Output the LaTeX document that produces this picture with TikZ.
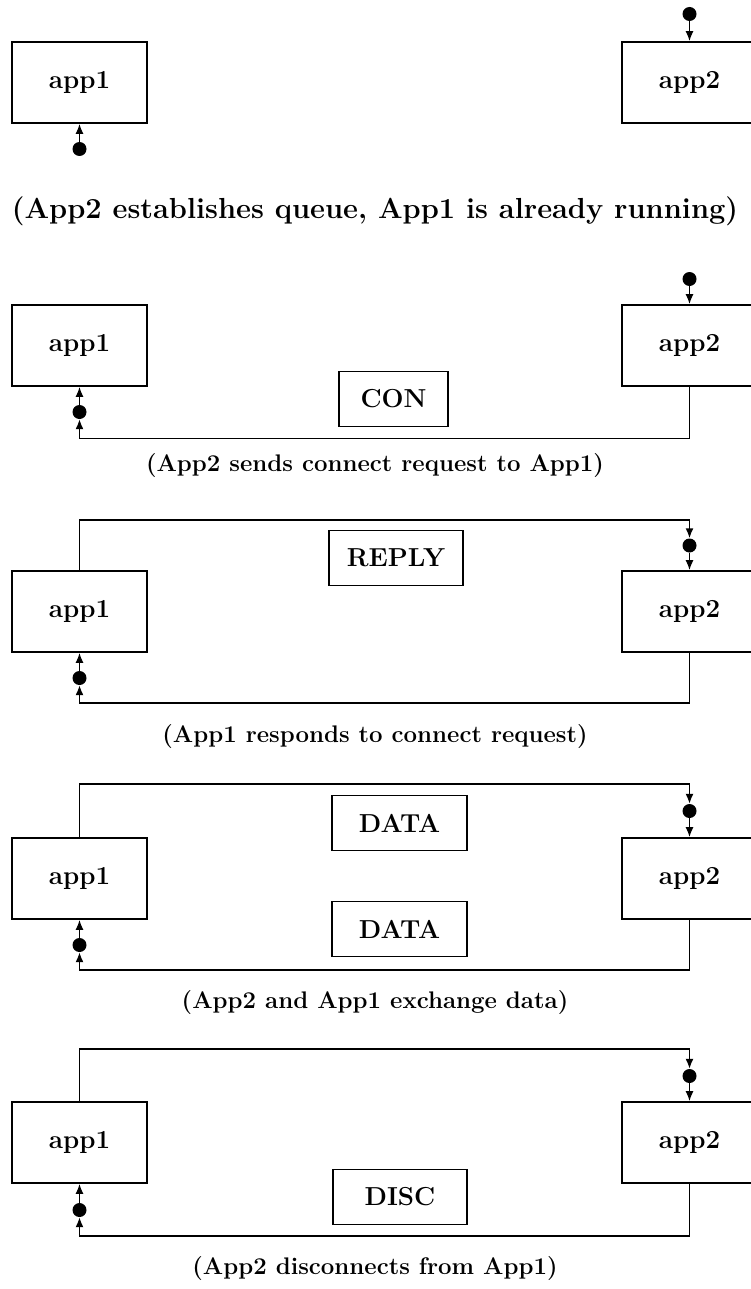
\documentclass[tikz,border=0pt]{standalone}
\usetikzlibrary{arrows.meta}
\tikzset{
  appbox/.style={draw, line width=1.6pt, minimum width=135pt, minimum height=81pt, inner sep=0pt, font=\fontsize{26}{30}\selectfont\bfseries},
  msgbox/.style={draw, line width=1.6pt, minimum width=134pt, minimum height=55pt, inner sep=0pt, font=\fontsize{26}{30}\selectfont\bfseries},
  dotnode/.style={circle, fill=black, inner sep=0pt, minimum size=14pt},
  conn/.style={line width=1.6pt},
  arr/.style={conn, -{Latex[length=10pt,width=8pt]}},
  captext/.style={inner sep=0pt, font=\fontsize{24}{28}\selectfont\bfseries},
  captextbig/.style={inner sep=0pt, font=\fontsize{29}{34}\selectfont\bfseries}
}
\begin{document}
\begin{tikzpicture}[x=1pt,y=-1pt]
\useasboundingbox (0,0) rectangle (750,1289);
% ---------- Section 1
\node[appbox] (a1a) at (79.5,82.5) {app1};
\node[appbox] (a2a) at (689.5,82.5) {app2};
\node[dotnode] (d1a) at (79.5,149) {};
\node[dotnode] (d2a) at (689.5,14) {};
\draw[arr] (d1a) -- (a1a.south);
\draw[arr] (d2a) -- (a2a.north);
\node[captextbig] (cap1) at (375,211) {(App2 establishes queue, App1 is already running)};
% ---------- Section 2
\node[appbox] (a1b) at (79.5,345.5) {app1};
\node[appbox] (a2b) at (689.5,345.5) {app2};
\node[dotnode] (d2b) at (689.5,279) {};
\draw[arr] (d2b) -- (a2b.north);
\node[dotnode] (d1b) at (79.5,412) {};
\coordinate (r2b) at (689.5,438.5);
\coordinate (l2b) at (79.5,438.5);
\draw[arr] (a2b.south) -- (r2b) -- (l2b) -- (d1b);
\draw[arr] (d1b) -- (a1b.south);
\node[msgbox, minimum width=109pt] (con) at (393.5,399) {CON};
\node[captext] (cap2) at (375,466) {(App2 sends connect request to App1)};
% ---------- Section 3
\node[appbox] (a1c) at (79.5,611.5) {app1};
\node[appbox] (a2c) at (689.5,611.5) {app2};
\coordinate (tl3) at (79.5,520);
\coordinate (tr3) at (689.5,520);
\node[dotnode] (d2c) at (689.5,545.5) {};
\draw[arr] (a1c.north) -- (tl3) -- (tr3) -- (d2c);
\draw[arr] (d2c) -- (a2c.north);
\node[dotnode] (d1c) at (79.5,678) {};
\coordinate (r3) at (689.5,703);
\coordinate (l3) at (79.5,703);
\draw[arr] (a2c.south) -- (r3) -- (l3) -- (d1c);
\draw[arr] (d1c) -- (a1c.south);
\node[msgbox] (reply) at (396,558) {REPLY};
\node[captext] (cap3) at (375,737) {(App1 responds to connect request)};
% ---------- Section 4
\node[appbox] (a1d) at (79.5,878.5) {app1};
\node[appbox] (a2d) at (689.5,878.5) {app2};
\coordinate (tl4) at (79.5,784);
\coordinate (tr4) at (689.5,784);
\node[dotnode] (d2d) at (689.5,811) {};
\draw[arr] (a1d.north) -- (tl4) -- (tr4) -- (d2d);
\draw[arr] (d2d) -- (a2d.north);
\node[dotnode] (d1d) at (79.5,945) {};
\coordinate (r4) at (689.5,970);
\coordinate (l4) at (79.5,970);
\draw[arr] (a2d.south) -- (r4) -- (l4) -- (d1d);
\draw[arr] (d1d) -- (a1d.south);
\node[msgbox, minimum width=135pt] (data1) at (399.5,823) {DATA};
\node[msgbox, minimum width=135pt] (data2) at (399.5,929) {DATA};
\node[captext] (cap4) at (375,1003) {(App2 and App1 exchange data)};
% ---------- Section 5
\node[appbox] (a1e) at (79.5,1142.5) {app1};
\node[appbox] (a2e) at (689.5,1142.5) {app2};
\coordinate (tl5) at (79.5,1049);
\coordinate (tr5) at (689.5,1049);
\node[dotnode] (d2e) at (689.5,1076) {};
\draw[arr] (a1e.north) -- (tl5) -- (tr5) -- (d2e);
\draw[arr] (d2e) -- (a2e.north);
\node[dotnode] (d1e) at (79.5,1210) {};
\coordinate (r5) at (689.5,1236);
\coordinate (l5) at (79.5,1236);
\draw[arr] (a2e.south) -- (r5) -- (l5) -- (d1e);
\draw[arr] (d1e) -- (a1e.south);
\node[msgbox] (disc) at (400,1197) {DISC};
\node[captext] (cap5) at (375,1268) {(App2 disconnects from App1)};
\end{tikzpicture}
\end{document}
